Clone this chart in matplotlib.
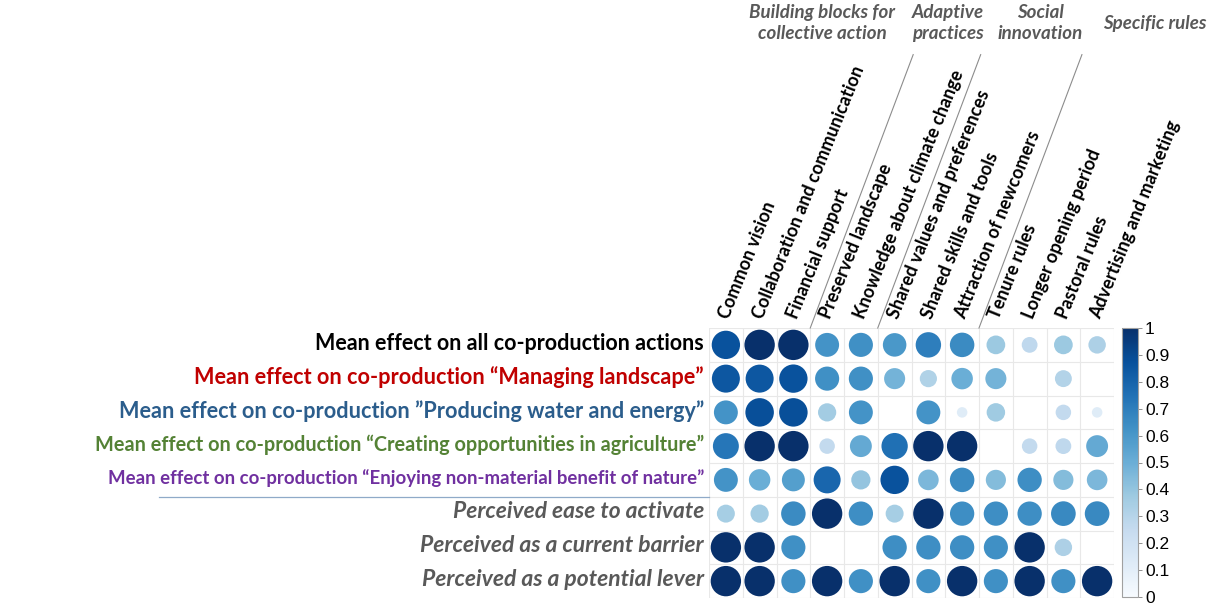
import numpy as np
import matplotlib
matplotlib.use("Agg")
import matplotlib.pyplot as plt
from matplotlib.patches import Circle
from matplotlib.colors import Normalize
from matplotlib.cm import ScalarMappable

columns = ["Common vision", "Collaboration and communication", "Financial support",
           "Preserved landscape", "Knowledge about climate change",
           "Shared values and preferences", "Shared skills and tools",
           "Attraction of newcomers", "Tenure rules", "Longer opening period",
           "Pastoral rules", "Advertising and marketing"]

rows = ["Mean effect on all co-production actions",
        "Mean effect on co-production \u201cManaging landscape\u201d",
        "Mean effect on co-production \u201dProducing water and energy\u201d",
        "Mean effect on co-production \u201cCreating opportunities in agriculture\u201d",
        "Mean effect on co-production \u201cEnjoying non-material benefit of nature\u201d",
        "Perceived ease to activate",
        "Perceived as a current barrier",
        "Perceived as a potential lever"]
row_colors = ["#000000", "#C00000", "#2B5D8C", "#548235", "#7030A0",
              "#595959", "#595959", "#595959"]
row_italic = [False] * 5 + [True] * 3
row_sizes = [15.5, 15.6, 15.6, 14.3, 13.4, 16.4, 16.5, 16.5]

groups = ["Building blocks for\ncollective action", "Adaptive\npractices",
          "Social\ninnovation", "Specific rules"]

values = [
    [0.87, 1.00, 1.00, 0.62, 0.63, 0.60, 0.70, 0.65, 0.38, 0.27, 0.38, 0.33],
    [0.85, 0.85, 0.87, 0.63, 0.63, 0.48, 0.32, 0.50, 0.48, 0.00, 0.31, 0.00],
    [0.62, 0.88, 0.88, 0.36, 0.62, 0.00, 0.62, 0.12, 0.37, 0.00, 0.26, 0.12],
    [0.73, 1.00, 1.00, 0.26, 0.52, 0.75, 1.00, 1.00, 0.00, 0.26, 0.27, 0.52],
    [0.62, 0.50, 0.57, 0.79, 0.40, 0.87, 0.46, 0.65, 0.44, 0.64, 0.44, 0.46],
    [0.35, 0.36, 0.65, 1.00, 0.64, 0.35, 1.00, 0.64, 0.64, 0.64, 0.66, 0.66],
    [1.00, 1.00, 0.63, 0.00, 0.00, 0.64, 0.64, 0.64, 0.63, 1.00, 0.33, 0.00],
    [1.00, 1.00, 0.63, 1.00, 0.63, 1.00, 0.63, 1.00, 0.63, 1.00, 0.63, 1.00],
]

W, H = 1213, 607
fig = plt.figure(figsize=(W / 100, H / 100), dpi=100)
ax = fig.add_axes([709 / W, 1 - 598 / H, 405 / W, 270 / H])
cmap = plt.get_cmap("Blues")
norm = Normalize(0, 1)
nr, nc = len(rows), len(columns)
ax.set_xlim(0, nc)
ax.set_ylim(nr, 0)
for k in range(nc + 1):
    ax.axvline(k, color="#e8e8e8", lw=0.8, zorder=0)
for k in range(nr + 1):
    ax.axhline(k, color="#e8e8e8", lw=0.8, zorder=0)
for i in range(nr):
    for j in range(nc):
        v = values[i][j]
        if v <= 0:
            continue
        ax.add_patch(Circle((j + 0.5, i + 0.5), 0.45 * np.sqrt(v),
                            facecolor=cmap(norm(v)), edgecolor="none", zorder=2))
ax.set_xticks([])
ax.set_yticks([])
for s in ax.spines.values():
    s.set_visible(False)

lab_font = "Lato"
for j, c in enumerate(columns):
    ax.text(j + 0.45, -0.3, c, rotation=68, rotation_mode="anchor",
            ha="left", va="center", fontsize=13, fontweight="bold",
            family=lab_font, color="#000000", clip_on=False)

for i, r in enumerate(rows):
    ax.text(-0.15, i + 0.45, r, ha="right", va="center", fontsize=row_sizes[i],
            fontweight="bold", family=lab_font, color=row_colors[i],
            style="italic" if row_italic[i] else "normal", clip_on=False)

# separator lines
ax.plot([-16.3, 0], [5, 5], color="#8FAAC8", lw=0.9, clip_on=False)
for x0 in [3, 5, 8]:
    ax.plot([x0, x0 + 3.05], [0, -8.1], color="#8c8c8c", lw=0.8, clip_on=False)

gx = [822, 948, 1040, 1155]
gy = [23, 23, 23, 23]
for g, x, y in zip(groups, gx, gy):
    fig.text(x / W, 1 - y / H, g, ha="center", va="center", fontsize=13.5,
             fontweight="bold", style="italic", family=lab_font,
             color="#595959", linespacing=1.25)

cax = fig.add_axes([1122 / W, 1 - 597 / H, 16 / W, 269 / H])
cb = fig.colorbar(ScalarMappable(norm=norm, cmap=cmap), cax=cax,
                  ticks=np.arange(0, 1.01, 0.1))
cb.ax.set_yticklabels(["0", "0.1", "0.2", "0.3", "0.4", "0.5", "0.6",
                       "0.7", "0.8", "0.9", "1"])
cb.ax.tick_params(labelsize=12.5, length=3, color="#7f7f7f", width=0.6, pad=2)
for t in cb.ax.get_yticklabels():
    t.set_family("Liberation Sans")
cb.outline.set_edgecolor("#a0a0a0")
cb.outline.set_linewidth(0.8)

fig.savefig("out.png", dpi=100)
